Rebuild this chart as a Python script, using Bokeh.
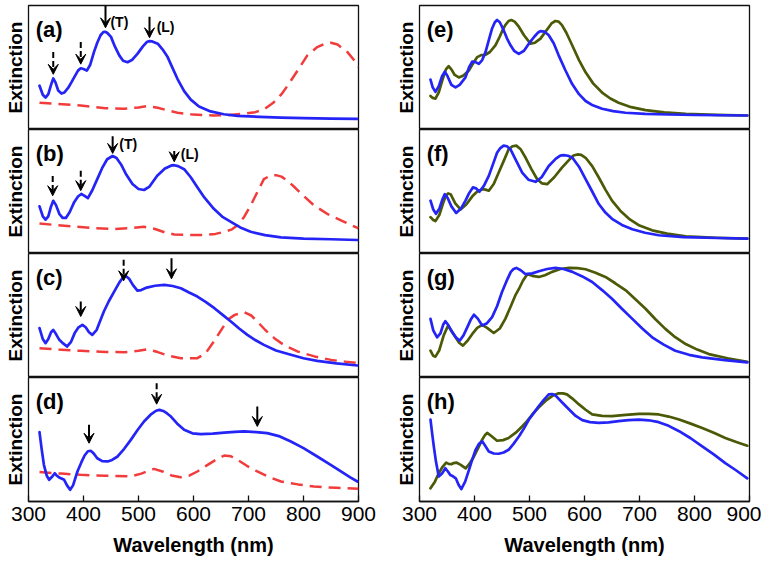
from bokeh.plotting import figure
from bokeh.layouts import row, column
from bokeh.models import Range1d, FixedTicker, Arrow, VeeHead, Label
from bokeh.embed import file_html
from bokeh.resources import INLINE

# ---------------- data: (wavelength nm, extinction, panel-normalised 0..100) ----------------
a_blue = [(320,35.3),(326,28),(331,25.7),(336,28.5),(341,36),(345,41.2),(349,38),(354,31.5),(360,29),(365,29.8),
          (372,33.5),(378,38),(383,42),(390,47.5),(395,49.4),(400,48.8),(406,47.5),(412,52),(419,62.4),(425,70),
          (431,76),(436,78.5),(439,78.8),(443,78),(450,74.7),(457,67),(465,59.8),(472,55.5),(480,54.3),(488,56),
          (498,61),(508,67),(515,70.5),(519,71.2),(525,71),(535,69.2),(544,64.5),(553,58.4),(562,49.5),(571,40.7),
          (583,31),(595,24.1),(610,18.5),(631,14.6),(655,12.3),(680,11),(720,10.2),(759,9.6),(800,9.1),(850,8.8),(898,8.5)]
a_red = [(320,21.6),(350,20.6),(395,19.4),(440,17.2),(474,16.7),(500,17.8),(516,18.9),(535,17.5),(555,15.2),(571,13.5),
         (600,12),(637,11.3),(665,11.6),(692,12.7),(712,14),(728,16.2),(745,21.5),(760,28.5),(771,35.3),(790,48),
         (807,59.8),(825,66.5),(840,69.5),(850,70),(862,68.5),(880,62.4),(891,56.5),(900,50.5)]

b_blue = [(320,38),(326,30),(331,27.3),(336,30),(341,38),(345,42.5),(350,39),(356,32),(362,28.8),(368,28.7),
          (375,33.5),(383,41.4),(390,46),(396,48),(402,46.5),(408,44.6),(416,51),(425,60),(434,69),(443,76),
          (453,78.6),(460,77),(468,72),(478,63.5),(489,56),(500,52),(510,51.2),(520,54),(534,62.7),(548,68.5),
          (560,71),(565,71.2),(572,70.5),(583,68),(595,61.5),(607,53.4),(620,45),(637,36),(652,29.8),(668,25.5),
          (685,21),(704,17.5),(730,14.8),(759,13),(800,12),(850,11.5),(898,10.9)]
b_red = [(320,24.2),(365,22.3),(420,20.5),(456,19.7),(485,20.5),(510,21.5),(530,19.8),(548,17),(565,15.4),(590,15),
         (619,14.9),(640,15.8),(656,17.5),(670,19.5),(680,22.8),(692,29.5),(704,38.8),(716,49.5),(728,60),(740,63),
         (750,63.2),(760,62),(771,58.7),(785,53),(800,46.5),(819,38.8),(845,31.5),(874,25.5),(900,20.2)]

c_blue = [(320,39.8),(326,31),(331,27.7),(336,31),(341,36.5),(345,38.4),(350,35),(356,30.4),(363,27.5),(370,25),
          (377,28.5),(384,35.8),(391,40.5),(398,42.5),(404,40.5),(410,36.5),(416,34.4),(424,38.5),(437,53.2),(446,61.5),
          (456,69.4),(465,76.5),(473,81.5),(478,81.5),(483,79.6),(490,74.5),(498,70),(505,70.5),(515,72.5),(530,74),
          (547,74.7),(562,73.8),(577,72),(592,68.5),(607,65.3),(622,61),(638,55.9),(653,50.5),(668,45.2),(683,39.5),
          (698,34.4),(713,30),(728,26.3),(750,21.8),(777,18.3),(800,15.5),(825,13.4),(860,11.4),(898,9.7)]
c_red = [(320,23.6),(360,22.3),(395,21.5),(440,20.6),(474,20.4),(500,21.5),(516,22.8),(535,20.5),(555,17.5),(577,15.6),
         (607,15.6),(622,19.5),(637,29),(650,38),(662,46.5),(675,50.5),(692,52.7),(705,50),(716,45.2),(730,38.5),
         (747,31.7),(765,26),(789,21),(820,17),(850,14.2),(875,12.8),(900,11.6)]

d_blue = [(320,55.9),(324,42),(328,29.6),(333,21),(337.5,17.5),(342,19.5),(347.8,22.8),(351,21),(355.7,19.4),(360,18.5),
          (364.8,17.5),(370,13),(375.7,9.4),(381,13),(389,24.2),(396,31.5),(402,37.1),(408,40.5),(413,40.9),(418,39),
          (425,34.9),(434,32.5),(444,32.3),(452,33.5),(462,36.3),(474,42.5),(486,49.7),(498,57.5),(510,64.5),(522,70),
          (532,73.2),(538,73.9),(545,73),(552,71),(559,68.5),(570,63),(583,57.8),(598,55),(613,54.3),(635,54.8),
          (656,55.6),(675,56.2),(692,56.5),(714,56),(734,55.1),(757,52.5),(777,48.4),(800,43),(825,36.3),(848,30),
          (868,24.2),(885,19.5),(898,16.1)]
d_red = [(320,23.7),(360,22.5),(395,21.5),(440,20.8),(486,20.2),(505,22.5),(528,26.3),(545,24),(560,21),(577,19.6),
         (593,21),(607,24.2),(622,28.5),(640,33.5),(656,37.1),(668,36.5),(680,33.6),(697,28.8),(716,24.2),(737,19.8),
         (759,16.1),(790,13.8),(819,12.1),(860,11),(900,10.2)]

e_blue = [(320,40.2),(324,34),(329,30.4),(335,35),(341,43),(346,46.7),(351,43),(358,36),(365.5,33.9),(373,36),
          (383.6,42),(390,50),(395.8,54.8),(401,54.5),(407.9,52.9),(414,56),(420,62.4),(426,72),(432,81.5),(437,86.5),
          (441,88.3),(446,86.5),(453,80.1),(459,73.5),(465.5,67.9),(472,63.5),(480.6,61),(490,63.5),(498.8,69.2),(509,75),
          (515,78),(520,79.3),(527,79),(535,76),(544,69.5),(553,59.8),(565,48),(577.6,36.6),(590,28.5),(602,23),
          (615,19.5),(632,16.7),(652,14.8),(674.5,13.5),(710,12.6),(753,12.1),(800,11.7),(896,11.3)]
e_olive = [(320,27.1),(324,25.5),(329,24.9),(335,30),(342,40.5),(348,48.5),(353,51),(358,48.5),(364,44),(371.5,42),
           (380,43.5),(389.7,47.5),(397,53),(405,58.4),(412,60),(420,60.3),(428,62.5),(438,67.9),(446,75),(452,81),
           (456,84.2),(462,87.5),(467,88.3),(473,87),(480.6,82.9),(490,76),(501.8,69.2),(510,70),(520,73.3),(530,79.5),
           (540,85.5),(547,87.5),(553,87),(559,84.2),(567,78),(577.6,67.9),(590,56),(602,46.1),(616,37),(632,29.8),
           (647,25),(662,21.6),(685,18),(711,15.6),(745,13.8),(784,12.7),(840,11.8),(896,11.3)]

f_blue = [(320,42.6),(325,35.5),(330,32),(336,36),(342,44),(346,47.9),(351,45),(358,38),(366.7,32.7),(375,36),
          (383.6,42.6),(390,48.5),(397,53.3),(403,52.5),(409,49.8),(417,54.5),(426,62.6),(434,72.5),(441,81.2),(447,85),
          (453,87),(459,86.5),(465.5,83.9),(475,75.5),(486.7,65.3),(498,59.5),(511,57.8),(522,61.5),(535,70.6),(548,76.5),
          (556,79),(562,79.4),(570,78.8),(578,77.2),(590,70),(602,59.9),(614,50),(626,39.9),(638,33),(650,28),
          (668,23),(687,19.5),(710,16.7),(735,14.7),(780,13.2),(840,12.5),(896,12)]
f_olive = [(320,29.3),(325,27),(329,26.1),(336,31),(344,42),(348,46.5),(352,48.5),(357,47.5),(365,40.5),(374.6,35.5),
           (385,39.5),(396,46.1),(405,50),(414,51.9),(420,51.5),(426,50.6),(435,56),(444,65.3),(453,74.5),(462,83.9),
           (469,86.5),(476,87),(484,84),(493,77.2),(503,68.5),(514,59.9),(523,56.5),(532,55.9),(545,61.5),(559,69.2),
           (572,75.5),(580,79),(587,79.9),(594,79.5),(602,77.2),(614,70.5),(626,61.3),(638,51.5),(650,42.6),(665,34.5),
           (681,28),(700,22.5),(723,18.7),(750,16),(784,13.9),(840,12.7),(896,12)]

g_blue = [(320,47.3),(325,38),(332,32.4),(338,35.5),(343,42.5),(347,45.4),(352,42.5),(359,37),(366,32.5),(373,29.7),
          (380,34),(387,40.6),(393,46.5),(399,50.6),(406,47.5),(414,41.9),(422,43.5),(432,48.7),(441,57.5),(450,68.9),
          (458,77.5),(466,85.2),(471,87.5),(476,88.4),(484,86.5),(493,83.3),(505,84),(517,85.7),(532,87.5),(547,88.4),
          (562,87.5),(578,85.2),(596,81.5),(614,77),(632,70.5),(650,63.5),(668,55.5),(687,47.3),(705,39.5),(723,32.4),
          (744,26.5),(765,21.6),(790,18.3),(814,16.2),(855,14),(896,12.2)]
g_olive = [(320,21.6),(325,17.5),(329,16.8),(336,22),(344,34),(352,41.9),(358,37.5),(365.5,32.4),(372,28),(379,25.7),
           (387,29.5),(396,35.1),(405,40),(414,42.4),(423,40),(435,35.9),(446,39.5),(456,47.3),(466,57.5),(474,66),
           (481,71.6),(488,78),(496,83.3),(505,82),(517,81.1),(528,82.5),(541,85.2),(556,87.5),(572,88.4),(587,88.2),
           (602,87.3),(620,84.5),(638,81.1),(656,76),(675,70.3),(693,63),(711,55.4),(729,47),(747,39.2),(765,32.5),
           (784,27),(805,22.5),(826,18.9),(860,15.5),(896,12.7)]

h_blue = [(320,66.1),(323,55),(326,44.4),(330,32),(335,20.1),(341,22.5),(347,26.8),(352,24),(356,21.4),(361,20.3),
          (366,18.7),(371,13.5),(376,10),(383,16),(390,25.5),(396,34),(402,41.7),(408,46.5),(414,48.5),(420,44.5),
          (426,40.4),(435,38.7),(444,38.5),(453,39.5),(462,41.7),(471,46.5),(481,52.6),(490,59),(499,66.1),(508,71.5),
          (517,77),(526,82),(535,86.4),(541,86.7),(547,85.6),(559,80),(572,74.2),(584,69),(596,65.6),(610,64),
          (626,63.4),(644,63.8),(662,64.8),(680,65.6),(699,66.1),(717,65.5),(735,64),(753,61),(772,56.7),(793,51),
          (814,44.4),(835,38),(856,30.9),(876,25),(896,18.7)]
h_olive = [(320,10.6),(328,16),(335,22.8),(342,28),(348.5,31.4),(353,30.3),(358,30.1),(362,31),(367,31.4),(375,29.5),
           (384,26.8),(391,30.5),(399,36.3),(407,43.5),(414,49.9),(419,53.5),(423,55.3),(430,53),(441,49),(452,49.5),
           (462,51.2),(475,55.5),(487,60.7),(496,65),(505,70.2),(517,76),(529,81.1),(541,85),(553,87.2),(561,87.2),
           (568,86.4),(578,83),(590,78.3),(602,74),(614,70.2),(632,69),(650,68.9),(675,69.8),(699,70.7),(717,70.6),
           (735,70.2),(753,68.5),(772,66.1),(793,62.8),(814,59.3),(835,55.5),(856,51.2),(876,48),(896,45)]

# arrows: (wavelength, y_start, y_end, dashed?)
a_arrows = [(440,100,82,False),(520,91,74,False),(345,62.4,44.5,True),(395,70.6,52.7,True)]
b_arrows = [(453,94.6,80.7,False),(565,82.6,74,False),(344,62.5,46.6,True),(395,66.7,50.7,True)]
c_arrows = [(395,61.3,49.2,False),(473,94.9,78,True),(560,96.2,79.6,False)]
d_arrows = [(410,61.8,47,False),(533,95.4,78.5,True),(716,76.6,60.5,False)]
a_marks = [(449,87,"(T)"),(533,83,"(L)")]
b_marks = [(465,88,"(T)"),(577,80,"(L)")]

x_ticks = [300, 400, 500, 600, 700, 800, 900]
panel_letters = ["(a)","(b)","(c)","(d)","(e)","(f)","(g)","(h)"]

FONT = "Liberation Sans"
BLUE = "#2424F6"
RED = "#F23C3C"
OLIVE = "#4B5A06"
INK = "black"


def make_panel(letter, col, is_top, is_bottom):
    p = figure(frame_width=330, frame_height=124,
               x_range=Range1d(300, 900), y_range=Range1d(0, 100),
               output_backend="svg", toolbar_location=None,
               x_axis_location="below" if is_bottom else None,
               min_border_left=28 if col == 0 else 41,
               min_border_right=20 if col == 0 else 12,
               min_border_top=5 if is_top else 0,
               min_border_bottom=0)
    p.grid.visible = False
    p.outline_line_color = "#111111"
    p.outline_line_width = 1.3
    p.background_fill_color = "white"
    p.border_fill_color = "white"
    ya = p.yaxis[0]
    ya.ticker = FixedTicker(ticks=[])
    ya.major_tick_in = 0
    ya.major_tick_out = 0
    ya.minor_tick_in = 0
    ya.minor_tick_out = 0
    ya.axis_line_color = None
    ya.major_label_standoff = 0
    ya.axis_label = "Extinction"
    ya.axis_label_text_font = FONT
    ya.axis_label_text_font_style = "bold"
    ya.axis_label_text_font_size = "19px"
    ya.axis_label_text_color = INK
    ya.axis_label_standoff = 3
    if is_bottom:
        xa = p.xaxis[0]
        xa.ticker = FixedTicker(ticks=x_ticks)
        xa.major_tick_in = 6
        xa.major_tick_out = 0
        xa.minor_tick_in = 0
        xa.minor_tick_out = 0
        xa.major_tick_line_width = 1.3
        xa.major_tick_line_color = "#111111"
        xa.axis_line_color = "#111111"
        xa.axis_line_width = 1.3
        xa.major_label_text_font = FONT
        xa.major_label_text_font_size = "21px"
        xa.major_label_text_color = INK
        xa.major_label_standoff = 5
        xa.axis_label = "Wavelength (nm)"
        xa.axis_label_text_font = FONT
        xa.axis_label_text_font_style = "bold"
        xa.axis_label_text_font_size = "20px"
        xa.axis_label_text_color = INK
        xa.axis_label_standoff = 10
    p.add_layout(Label(x=313, y=80.5, text=letter, text_font=FONT, text_font_style="bold",
                       text_font_size="22px", text_baseline="middle", text_color=INK))
    return p


def add_curve(p, pts, color, dashed=False):
    xs = [q[0] for q in pts]
    ys = [q[1] for q in pts]
    if dashed:
        p.line(xs, ys, line_color=color, line_width=2.5, line_dash="12 7", line_join="round")
    else:
        p.line(xs, ys, line_color=color, line_width=2.7, line_join="round", line_cap="round")


def add_arrows(p, arrows, marks=()):
    for (x, y0, y1, dashed) in arrows:
        p.add_layout(Arrow(end=VeeHead(size=10, fill_color=INK, line_color=INK, line_width=1),
                           x_start=x, y_start=y0, x_end=x, y_end=y1,
                           line_color=INK, line_width=2,
                           line_dash="6 3" if dashed else "solid"))
    for (x, y, t) in marks:
        p.add_layout(Label(x=x, y=y, text=t, text_font=FONT, text_font_style="bold",
                           text_font_size="14px", text_baseline="middle", text_color=INK))


pa = make_panel(panel_letters[0], 0, True, False)
add_curve(pa, a_red, RED, True); add_curve(pa, a_blue, BLUE); add_arrows(pa, a_arrows, a_marks)
pb = make_panel(panel_letters[1], 0, False, False)
add_curve(pb, b_red, RED, True); add_curve(pb, b_blue, BLUE); add_arrows(pb, b_arrows, b_marks)
pc = make_panel(panel_letters[2], 0, False, False)
add_curve(pc, c_red, RED, True); add_curve(pc, c_blue, BLUE); add_arrows(pc, c_arrows)
pd = make_panel(panel_letters[3], 0, False, True)
add_curve(pd, d_red, RED, True); add_curve(pd, d_blue, BLUE); add_arrows(pd, d_arrows)

pe = make_panel(panel_letters[4], 1, True, False)
add_curve(pe, e_olive, OLIVE); add_curve(pe, e_blue, BLUE)
pf = make_panel(panel_letters[5], 1, False, False)
add_curve(pf, f_olive, OLIVE); add_curve(pf, f_blue, BLUE)
pg = make_panel(panel_letters[6], 1, False, False)
add_curve(pg, g_olive, OLIVE); add_curve(pg, g_blue, BLUE)
ph = make_panel(panel_letters[7], 1, False, True)
add_curve(ph, h_olive, OLIVE); add_curve(ph, h_blue, BLUE)

layout = row(column(pa, pb, pc, pd), column(pe, pf, pg, ph))

open("out.html", "w").write(file_html(layout, INLINE))
